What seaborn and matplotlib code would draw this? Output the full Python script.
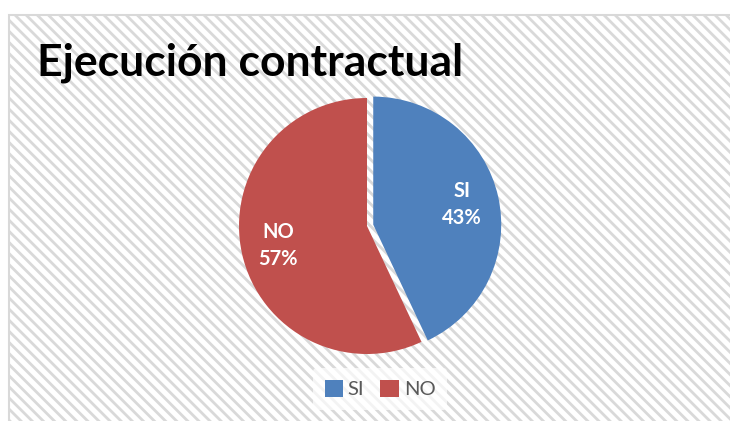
import matplotlib
matplotlib.use("Agg")
import matplotlib.pyplot as plt
from matplotlib.patches import Rectangle
import seaborn as sns

categories = ["SI", "NO"]
values = [43, 57]
colors = ["#4F81BD", "#C0504D"]
title = "Ejecución contractual"

sns.set_style("white")
plt.rcParams["font.family"] = ["Lato", "DejaVu Sans"]
plt.rcParams["hatch.color"] = "#f3f3f3"
plt.rcParams["hatch.linewidth"] = 2.0

W, H = 730, 421
fig = plt.figure(figsize=(W / 100, H / 100), dpi=100)
fig.patch.set_facecolor("white")

# chart area background with diagonal hatch and border
bg = Rectangle((9 / W, -0.1), 1.2, 1.1 - 15 / H, transform=fig.transFigure,
               facecolor="white", edgecolor="#d9d9d9", hatch="\\\\\\",
               linewidth=1.5, zorder=-10)
fig.patches.append(bg)

# pie axes
cx, cy, r = 367, 226, 128
half = 140
ax = fig.add_axes([(cx - half) / W, (H - cy - half) / H, 2 * half / W, 2 * half / H])
ax.set_zorder(5)
ax.axis("off")
ax.patch.set_alpha(0)

pal = sns.color_palette(colors)
wedges, texts, autotexts = ax.pie(
    values, colors=pal, startangle=90, counterclock=False,
    explode=[0.05, 0], radius=1.0,
    autopct=lambda p: "", pctdistance=0.71,
    wedgeprops=dict(linewidth=0))
ax.set_xlim(-half / r, half / r)
ax.set_ylim(-half / r, half / r)
ax.set_aspect("equal")
for t, cat, v in zip(autotexts, categories, values):
    t.set_text(f"{cat}\n{v}%")
    t.set_color("white")
    t.set_fontweight("bold")
    t.set_fontsize(14.5)
    t.set_linespacing(1.45)

fig.text(37 / W, 1 - 63 / H, title, fontsize=32, fontweight="bold",
         color="black", ha="left", va="center", zorder=6)

leg = fig.legend(wedges, categories, loc="center", bbox_to_anchor=(380 / W, 1 - 389 / H),
                 ncol=2, frameon=True, fontsize=14.5, handlelength=0.9, handleheight=0.9,
                 handletextpad=0.25, columnspacing=0.8, borderpad=0.6)
leg.set_zorder(6)
leg.get_frame().set_facecolor("white")
leg.get_frame().set_alpha(0.7)
leg.get_frame().set_linewidth(0)
for t in leg.get_texts():
    t.set_color("#595959")

fig.savefig("out.png", dpi=100)
